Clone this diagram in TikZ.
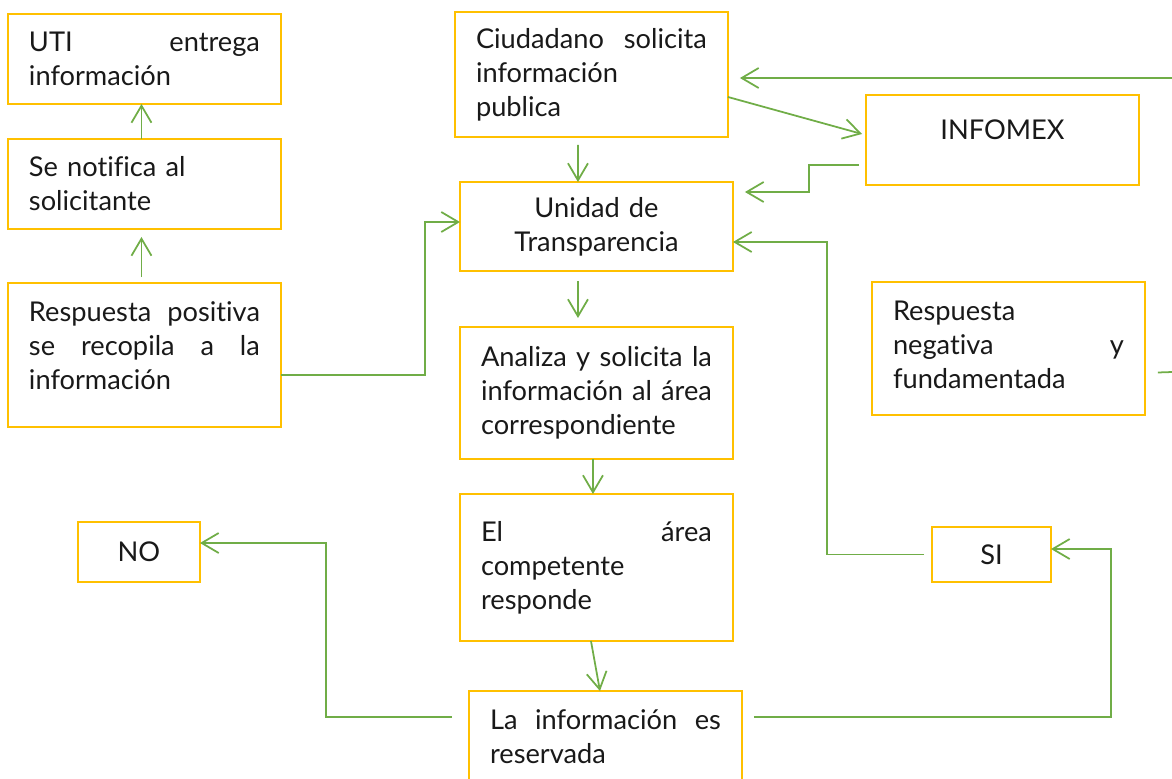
\documentclass[tikz,border=0pt]{standalone}
\usepackage{fontspec}
\setmainfont{Lato}[Ligatures=NoCommon]
\usetikzlibrary{arrows.meta}
\definecolor{boxyellow}{HTML}{FFC000}
\definecolor{linkgreen}{HTML}{70AD47}
\newcommand\jline[1]{\makebox[4.62cm][s]{\spaceskip=0.3em plus 1fil\xspaceskip=\spaceskip #1}}

\begin{document}
\begin{tikzpicture}[x=0.02cm,y=-0.02cm,>={Straight Barb[length=0.34cm,width=0.4cm]},
    box/.style={draw=boxyellow,line width=1.5pt,outer sep=0pt,anchor=north west,inner xsep=0.42cm,inner ysep=0pt,text width=4.62cm,align=left,font=\fontsize{15.5}{19.3}\selectfont,text=black!90},
    small box/.style={draw=boxyellow,line width=1.5pt,outer sep=0pt,anchor=north west,inner sep=0pt,font=\fontsize{15.5}{19.3}\selectfont,text=black!90},
    link/.style={draw=linkgreen,line width=1pt}]

            \useasboundingbox (0,0) rectangle (1172,778);

            \node[box, minimum height=1.8cm]  (uti) at (8,14) {\jline{UTI entrega}\\información};
            \node[box, minimum height=1.8cm]  (notif) at (8,139) {Se notifica al\\solicitante};
            \node[box, minimum height=2.88cm, text depth=1.75cm] (pos) at (8,283) {\jline{Respuesta positiva}\\\jline{se recopila a la}\\información};

            \node[box, minimum height=2.5cm]  (ciud) at (455,12) {\jline{Ciudadano solicita}\\información\\publica};
            \node[box, align=center, minimum height=1.78cm] (unidad) at (460,182) {Unidad de\\Transparencia};
            \node[box, minimum height=2.64cm] (analiza) at (460,327) {\jline{Analiza y solicita la}\\\jline{información al área}\\correspondiente};
            \node[box, minimum height=2.94cm] (area) at (460,494) {\jline{El área}\\competente\\responde};
            \node[box, minimum height=1.84cm] (reserv) at (469,691) {\jline{La información es}\\reservada};

            \node[box, align=center, minimum height=1.8cm, text depth=0.4cm] (infomex) at (866,95) {INFOMEX};
            \node[box, minimum height=2.66cm, text depth=1.52cm] (neg) at (872,282) {Respuesta\\\jline{negativa y}\\fundamentada};
            \node[small box, minimum width=2.44cm, minimum height=1.2cm] (no) at (78,522) {NO};
            \node[small box, minimum width=2.38cm, minimum height=1.1cm] (si) at (932,527) {SI};

            \coordinate (edgetop) at (1172,78);
            \coordinate (edgeneg) at (1172,372);

            % \path[every node/.style={font=\small}]

            \draw[link,->] ([xshift=-0.06cm]notif.north) to ([xshift=-0.06cm]uti.south);
            \draw[link,->,shorten <=0.12cm,shorten >=0.16cm] ([xshift=-0.06cm]pos.north) to ([xshift=-0.06cm]notif.south);
            \draw[link,->] ([yshift=-0.4cm]pos.east) -- ++(144,0) |- ([yshift=0.09cm]unidad.west);
            \draw[link,->,shorten <=0.16cm] ([xshift=-0.27cm]ciud.south) to ([xshift=-0.37cm]unidad.north);
            \draw[link,->] ([yshift=-0.45cm]ciud.east) to ([shift={(-4,-6)}]infomex.west);
            \draw[link,->,shorten >=0.24cm] (edgetop) to (edgetop -| ciud.east);
            \draw[link,->,shorten <=0.14cm,shorten >=0.24cm] ([yshift=-0.5cm]infomex.west) -- ++(-57,0) |- ([yshift=0.69cm]unidad.east);
            \draw[link,->,shorten <=0.2cm,shorten >=0.18cm] ([xshift=-0.37cm]unidad.south) to ([xshift=-0.37cm]analiza.north);
            \draw[link,->] ([xshift=-0.07cm]analiza.south) to ([xshift=-0.07cm]area.north);
            \draw[link,->] ([xshift=-0.11cm]area.south) to ([xshift=-0.11cm]reserv.north);
            \draw[link,->] ([shift={(-17,26)}]reserv.north west) -- ++(-126,0) |- ([yshift=0.18cm]no.east);
            \draw[link,->] ([shift={(12,26)}]reserv.north east) -- ++(357,0) |- ([yshift=0.11cm]si.east);
            \draw[link,->] ([xshift=-0.16cm]si.west) -- ++(-97,0) |- ([yshift=-0.31cm]unidad.east);
            \draw[link] ([shift={(13,24)}]neg.east) to (edgeneg);

            ;
        \end{tikzpicture}
\end{document}
